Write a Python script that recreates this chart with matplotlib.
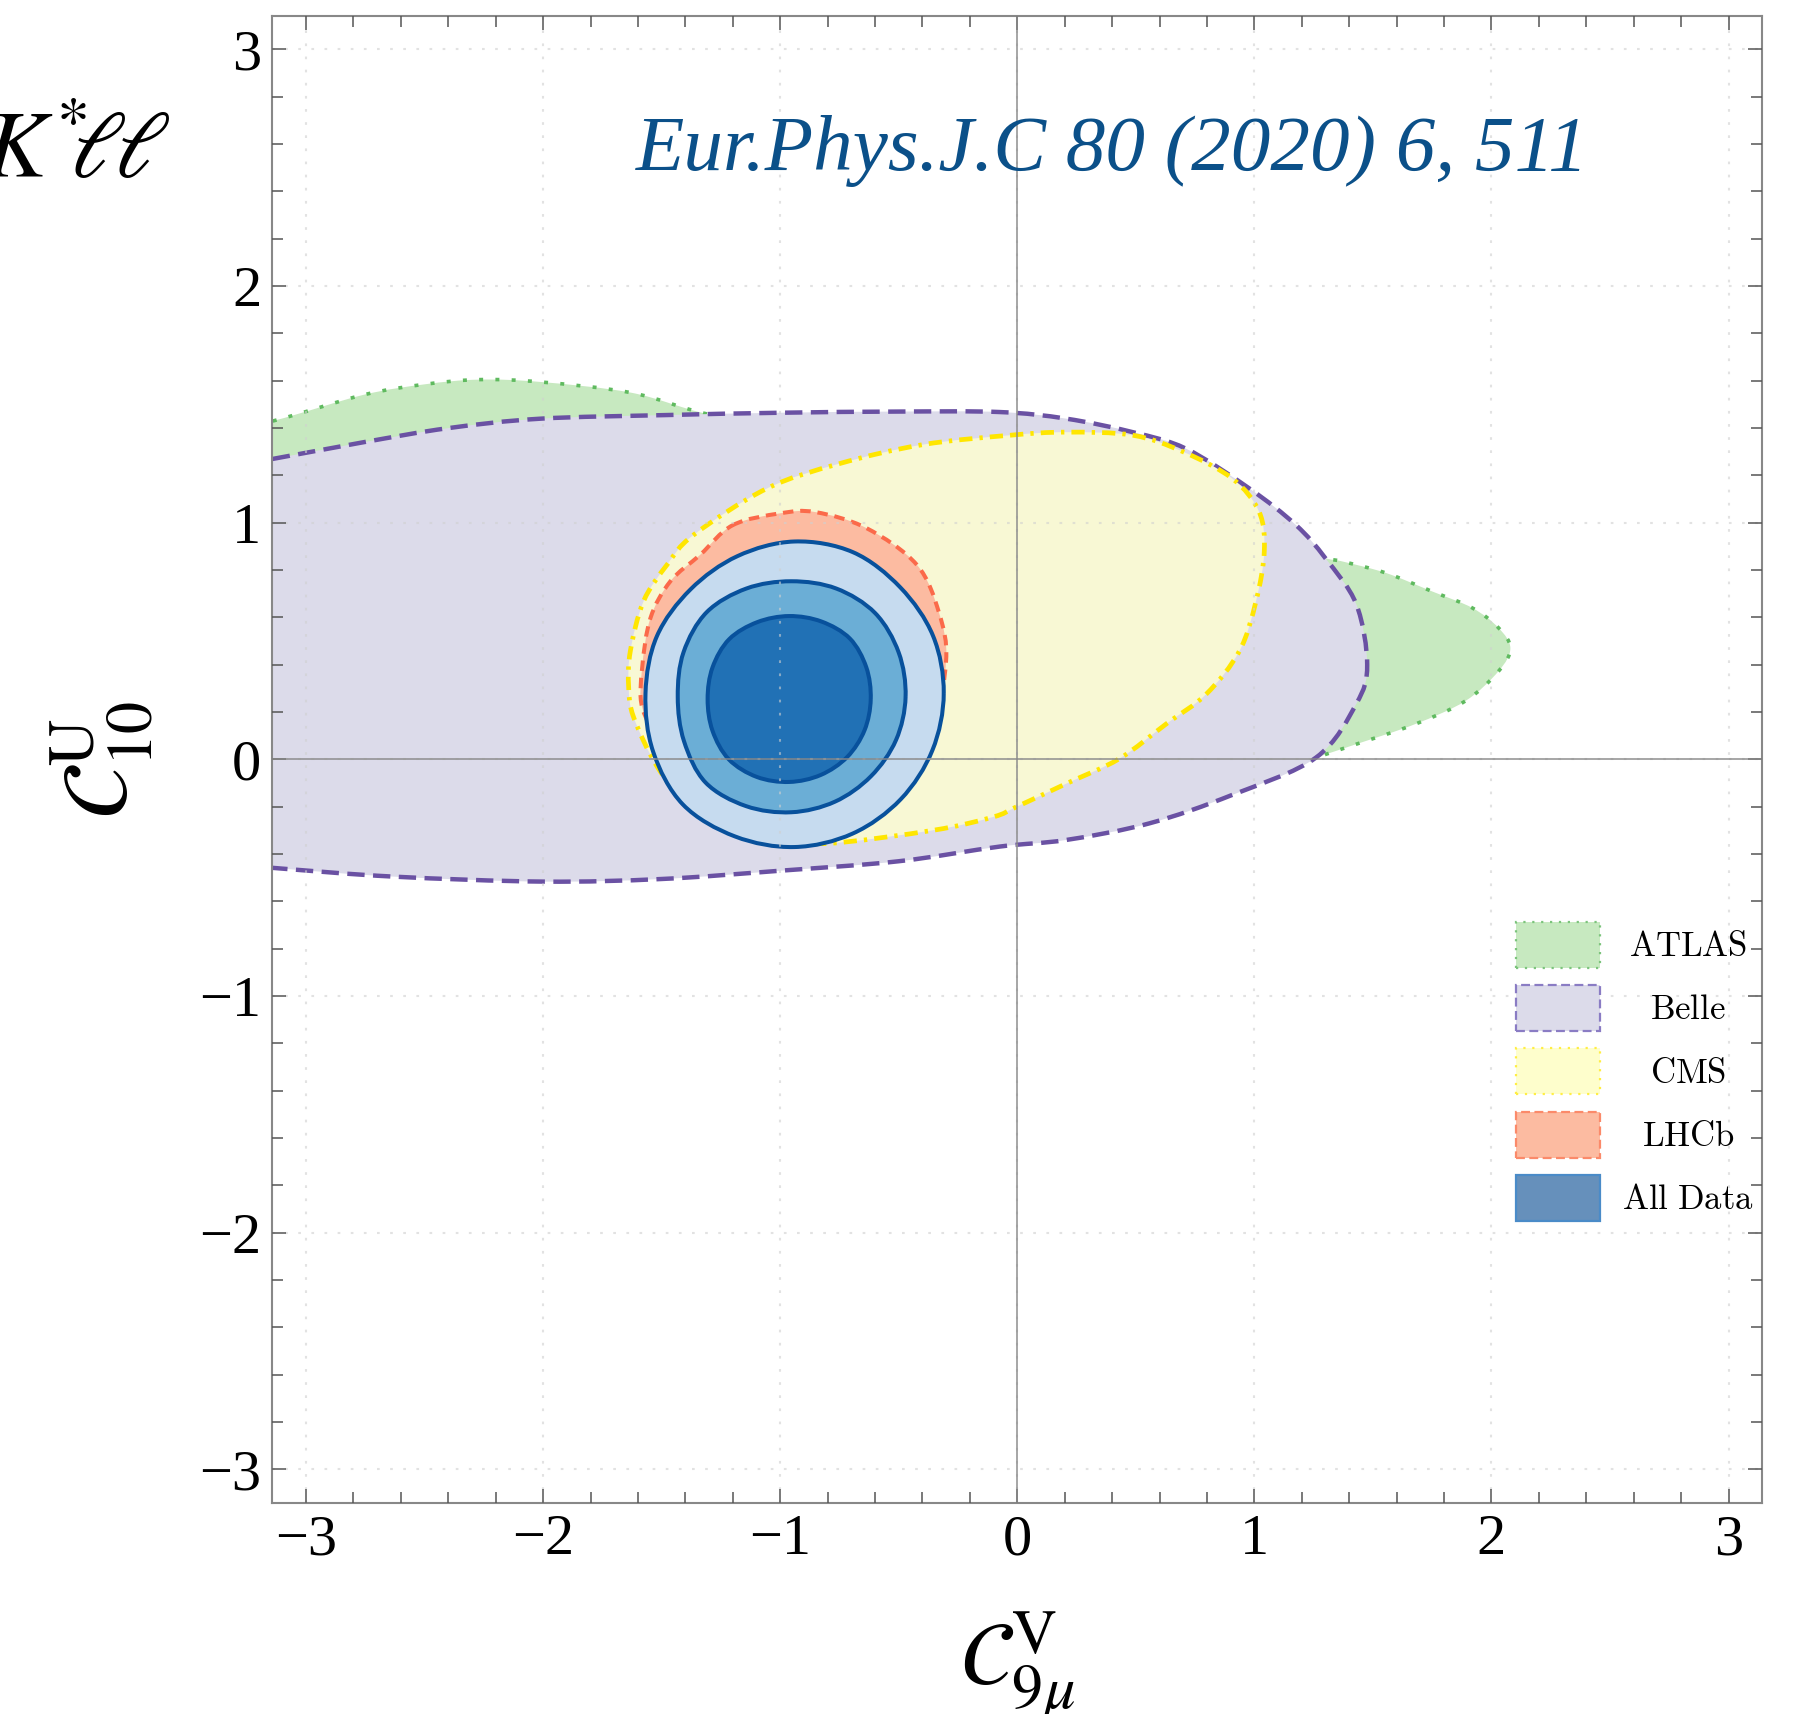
import numpy as np
import matplotlib
matplotlib.use("Agg")
import matplotlib.pyplot as plt
from matplotlib.path import Path
from matplotlib.patches import PathPatch, Patch
from matplotlib.ticker import MultipleLocator
from matplotlib.font_manager import FontProperties

plt.rcParams['font.family'] = ['Liberation Serif', 'DejaVu Serif']
plt.rcParams['mathtext.fontset'] = 'stix'

# ---------------- data (boundaries of the allowed regions, in data units) -------------
atlas_x = [-3.6, -3.14, -2.76, -2.50, -2.27, -2.01, -1.63, -1.33, -1.00, -0.30, 0.50, 1.00,
           1.28, 1.37, 1.555, 1.75, 1.92, 2.03, 2.08, 2.03, 1.89, 1.68, 1.44, 1.26,
           1.00, 0.30, -0.50, -1.50, -2.50, -3.14, -3.6]
atlas_y = [1.32, 1.43, 1.54, 1.585, 1.605, 1.595, 1.55, 1.465, 1.40, 1.30, 1.15, 0.95,
           0.856, 0.837, 0.788, 0.71, 0.64, 0.556, 0.47, 0.373, 0.247, 0.15, 0.068, 0.008,
           -0.08, -0.25, -0.35, -0.40, -0.40, -0.36, -0.33]

belle_x = [-3.6, -3.14, -2.76, -2.40, -2.01, -1.49, -1.00, -0.50, -0.074, 0.207, 0.487, 0.712,
           0.979, 1.175, 1.30, 1.43, 1.476, 1.43, 1.26, 0.906, 0.557, 0.207, -0.074, -0.50,
           -1.00, -1.50, -2.00, -2.63, -3.14, -3.6]
belle_y = [1.19, 1.27, 1.34, 1.40, 1.44, 1.455, 1.465, 1.47, 1.468, 1.44, 1.383, 1.313,
           1.145, 0.991, 0.85, 0.656, 0.40, 0.235, 0.008, -0.15, -0.27, -0.34, -0.368, -0.43,
           -0.47, -0.505, -0.516, -0.495, -0.458, -0.42]

cms_x = [-0.03, 0.207, 0.487, 0.70, 0.907, 1.02, 1.042, 1.007, 0.937, 0.797, 0.628, 0.43,
         0.207, -0.003, -0.102, -0.354, -0.803, -1.00, -1.20, -1.40, -1.519, -1.618, -1.639,
         -1.632, -1.576, -1.477, -1.365, -1.056, -0.75, -0.40]
cms_y = [1.37, 1.383, 1.37, 1.30, 1.187, 1.047, 0.879, 0.669, 0.458, 0.276, 0.15, 0.003,
         -0.102, -0.20, -0.243, -0.299, -0.355, -0.33, -0.28, -0.17, -0.03, 0.178, 0.304,
         0.458, 0.669, 0.823, 0.949, 1.145, 1.25, 1.33]

lhcb_x = [-1.20, -1.00, -0.85, -0.635, -0.424, -0.33, -0.30, -0.36, -0.55, -0.80, -1.05,
          -1.30, -1.50, -1.582, -1.582, -1.547, -1.463, -1.337]
lhcb_y = [0.99, 1.04, 1.045, 0.977, 0.823, 0.62, 0.42, 0.15, -0.10, -0.22, -0.25,
          -0.12, 0.08, 0.22, 0.388, 0.598, 0.753, 0.865]

# "All Data" contours: centre and radius read every 22.5 degrees (starting at +x, ccw)
all_outer_center = (-0.94, 0.28)
all_outer_r = [0.630, 0.633, 0.632, 0.645, 0.641, 0.627, 0.620, 0.628,
               0.628, 0.645, 0.665, 0.655, 0.650, 0.642, 0.634, 0.630]
all_mid_center = (-0.953, 0.265)
all_mid_r = [0.482, 0.490, 0.500, 0.495, 0.488, 0.495, 0.505, 0.492,
             0.479, 0.490, 0.512, 0.500, 0.488, 0.480, 0.475, 0.478]
all_in_center = (-0.962, 0.255)
all_in_r = [0.344, 0.352, 0.362, 0.355, 0.351, 0.352, 0.358, 0.350,
            0.344, 0.350, 0.360, 0.356, 0.350, 0.347, 0.346, 0.344]

legend_labels = ["ATLAS", "Belle", "CMS", "LHCb", "All Data"]
major_ticks = [-3, -2, -1, 0, 1, 2, 3]
tick_labels = ["\u22123", "\u22122", "\u22121", "0", "1", "2", "3"]


def smooth_closed(xs, ys):
    P = np.column_stack([xs, ys]).astype(float)
    n = len(P)
    verts = [P[0]]
    codes = [Path.MOVETO]
    for i in range(n):
        p0, p1, p2, p3 = P[i - 1], P[i], P[(i + 1) % n], P[(i + 2) % n]
        verts += [p1 + (p2 - p0) / 6.0, p2 - (p3 - p1) / 6.0, p2]
        codes += [Path.CURVE4] * 3
    return Path(verts, codes)


def ring_path(center, radii):
    r = np.asarray(radii, float)
    th = np.deg2rad(np.arange(len(r)) * 360.0 / len(r))
    return smooth_closed(center[0] + r * np.cos(th), center[1] + r * np.sin(th))


fig = plt.figure(figsize=(18.03, 17.14), dpi=100)
ax = fig.add_axes([0.1511, 0.1231, 0.8262, 0.8676])
ax.set_xlim(-np.pi, np.pi)
ax.set_ylim(-np.pi, np.pi)

lw = 2.9
ax.add_patch(PathPatch(smooth_closed(atlas_x, atlas_y), facecolor='#c7e9c0', edgecolor='#5fba5f',
                       lw=2.6, linestyle=(0, (1.1, 3.4)), zorder=1.0))
ax.add_patch(PathPatch(smooth_closed(belle_x, belle_y), facecolor='#dcdbea', edgecolor='#6a51a3',
                       lw=3.2, linestyle=(0, (3.9, 1.9)), zorder=1.1))
ax.add_patch(PathPatch(smooth_closed(cms_x, cms_y), facecolor='#f8f8d4', edgecolor='#ffe600',
                       lw=3.4, linestyle=(0, (2.8, 1.5, 0.7, 1.5)), zorder=1.2))
ax.add_patch(PathPatch(smooth_closed(lhcb_x, lhcb_y), facecolor='#fcbba1', edgecolor='#fb6a4a',
                       lw=lw, linestyle=(0, (2.6, 1.7)), zorder=1.3))
ax.add_patch(PathPatch(ring_path(all_outer_center, all_outer_r), facecolor='#c6dbef',
                       edgecolor='#08519c', lw=lw, zorder=1.4))
ax.add_patch(PathPatch(ring_path(all_mid_center, all_mid_r), facecolor='#6baed6',
                       edgecolor='#08519c', lw=lw, zorder=1.5))
ax.add_patch(PathPatch(ring_path(all_in_center, all_in_r), facecolor='#2171b5',
                       edgecolor='#08519c', lw=lw, zorder=1.6))

# grid + zero axes
ax.set_axisbelow(False)
ax.grid(True, which='major', color='#d0d0d0', alpha=0.6, lw=1.5, linestyle=(0, (1.3, 5)))
ax.axhline(0, color='#888888', lw=1.3, alpha=0.8, zorder=2.6)
ax.axvline(0, color='#888888', lw=1.3, alpha=0.8, zorder=2.6)

# ticks
ax.set_xticks(major_ticks)
ax.set_xticklabels(tick_labels)
ax.set_yticks(major_ticks)
ax.set_yticklabels(tick_labels)
ax.xaxis.set_minor_locator(MultipleLocator(0.2))
ax.yaxis.set_minor_locator(MultipleLocator(0.2))
ax.tick_params(which='both', direction='in', top=True, right=True, color='#555555', width=1.1)
ax.tick_params(which='major', length=10, labelsize=42, pad=8)
ax.tick_params(which='minor', length=8)
for s in ax.spines.values():
    s.set_color('#888888')
    s.set_linewidth(1.5)

# labels
ax.set_xlabel(r'$\mathcal{C}_{9\mu}^{\mathrm{V}}$', fontsize=64, va='baseline')
ax.xaxis.set_label_coords(0.5, -0.123)
ax.set_ylabel(r'$\mathcal{C}_{10}^{\mathrm{U}}$', fontsize=66, va='baseline')
ax.yaxis.set_label_coords(-0.097, 0.5)

ax.text(0.40, 2.49, 'Eur.Phys.J.C 80 (2020) 6, 511', fontsize=57, style='italic',
        color='#0b5089', ha='center', va='baseline')
fig.text(170 / 1803, 1 - 178 / 1714, r'$K^{*}\!\!\ell\!\ell$', fontsize=68, ha='right',
         va='baseline')

# legend
handles = [
    Patch(facecolor='#c7e9c0', edgecolor='#7cc47c', lw=1.6, linestyle=(0, (1, 3))),
    Patch(facecolor='#dcdbea', edgecolor='#8a7cc4', lw=1.6, linestyle=(0, (4, 2))),
    Patch(facecolor='#fefecc', edgecolor='#ffee44', lw=1.6, linestyle=(0, (1, 3))),
    Patch(facecolor='#fcbba1', edgecolor='#fb8a6a', lw=1.6, linestyle=(0, (4, 2))),
    Patch(facecolor='#6690bb', edgecolor='#4a8bc8', lw=1.6),
]
leg_texts = [r'$\mathrm{' + s.replace(' ', r'\ ') + '}$' for s in legend_labels]
leg = ax.legend(handles, leg_texts, loc='upper left', bbox_to_anchor=(0.835, 0.391),
                frameon=False, prop=FontProperties(size=25, math_fontfamily='cm'),
                handlelength=2.4, handleheight=1.66,
                labelspacing=0.5, handletextpad=0.65, borderpad=0, borderaxespad=0)

# centre the legend labels within their column
fig.canvas.draw()
renderer = fig.canvas.get_renderer()
texts = leg.get_texts()
widths = [t.get_window_extent(renderer).width for t in texts]
wmax = max(widths)
for t, w in zip(texts, widths):
    t.set_x((wmax - w) / 2.0)

fig.savefig('out.png', dpi=100)
